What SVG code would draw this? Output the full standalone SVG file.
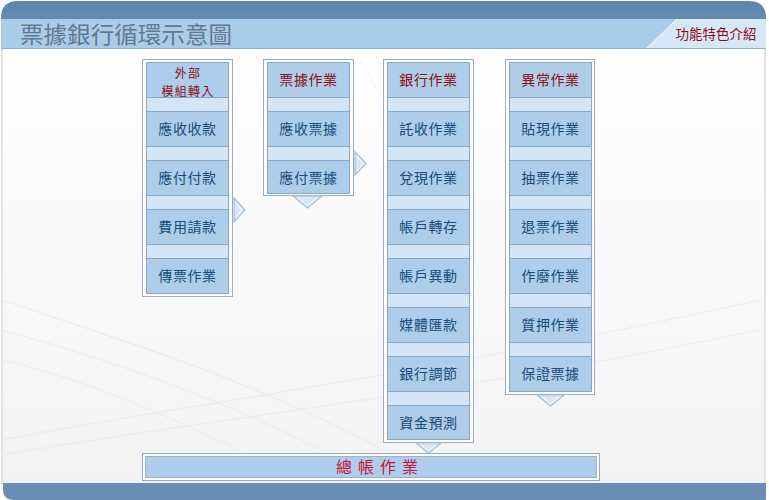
<svg xmlns="http://www.w3.org/2000/svg" width="769" height="500" viewBox="0 0 769 500">
<style>
.frame{fill:#ffffff;stroke:#98adc6;stroke-width:1}
.strip{fill:#d3e5f6;stroke:#88a7c6;stroke-width:1}
.item{fill:#adcdea;stroke:#88a7c6;stroke-width:1}
.t{font-family:"Noto Sans CJK TC","Noto Sans CJK SC",sans-serif;font-size:14px;fill:#1b4b7a;text-anchor:middle;letter-spacing:0.6px}
.h{font-family:"Noto Sans CJK TC","Noto Sans CJK SC",sans-serif;font-size:14px;fill:#8e0f14;text-anchor:middle;letter-spacing:0.6px}
.h2{font-family:"Noto Sans CJK TC","Noto Sans CJK SC",sans-serif;font-size:12px;fill:#8e0f14;text-anchor:middle;letter-spacing:1.2px}
.chev{fill:#d9e7f5;stroke:#a6bfd9;stroke-width:1.2;stroke-linejoin:miter}
.chevin{fill:none;stroke:#ffffff;stroke-width:1}
</style>
<defs>
<linearGradient id="bar" x1="0" y1="0" x2="0" y2="1">
<stop offset="0" stop-color="#5d85ad"/>
<stop offset="1" stop-color="#6f93b8"/>
</linearGradient>
<linearGradient id="bg" x1="0" y1="0" x2="0" y2="1">
<stop offset="0" stop-color="#ffffff"/>
<stop offset="1" stop-color="#f3f3f3"/>
</linearGradient>
</defs>
<!-- background -->
<rect x="0" y="0" width="769" height="500" fill="#ffffff"/>
<rect x="2" y="48" width="763" height="436" fill="url(#bg)" stroke="#c9c9c9" stroke-width="1"/>
<g fill="none" stroke="#ececec" stroke-width="1.2">
<path d="M2 300 C 120 340, 260 380, 420 470"/>
<path d="M2 330 C 110 360, 230 400, 360 470"/>
<path d="M2 360 C 90 380, 180 420, 300 480"/>
<path d="M2 440 C 150 410, 400 380, 760 300"/>
<path d="M2 455 C 200 420, 450 395, 760 330"/>
</g>
<g fill="none" stroke="#f2f2f2" stroke-width="1">
<path d="M360 60 C 420 160, 470 300, 460 480"/>
</g>
<!-- header -->
<path d="M1 48 L1 18 Q1 1 18 1 L749 1 Q766 1 766 18 L766 48 Z" fill="url(#bar)"/>
<rect x="1" y="19" width="765" height="29" fill="#abcce9"/>
<path d="M647 48 L677 19 L766 19 L766 48 Z" fill="#d6e7f7"/>
<line x1="647" y1="48" x2="677" y2="19" stroke="#ffffff" stroke-width="1"/>
<line x1="1" y1="48.5" x2="766" y2="48.5" stroke="#8fadca" stroke-width="1"/>
<text x="20" y="43" font-family="Noto Sans CJK TC,Noto Sans CJK SC,sans-serif" font-size="23" fill="#62798f" textLength="212" lengthAdjust="spacingAndGlyphs">票據銀行循環示意圖</text>
<text x="716" y="39" font-family="Noto Sans CJK TC,Noto Sans CJK SC,sans-serif" font-size="13.5" fill="#8e0f14" text-anchor="middle">功能特色介紹</text>
<!-- footer -->
<path d="M3 483 L766 483 L766 500 L14 500 Q3 500 3 489 Z" fill="#6a8db3"/>

<!-- column 1 -->
<g id="col1">
<rect class="frame" x="142.5" y="59.5" width="90" height="237"/>
<rect class="strip" x="146.5" y="62.5" width="82" height="230"/>
<g id="n-external"><rect class="item" x="146.5" y="62.5" width="82" height="35"/><text class="h2" x="188" y="78"><tspan x="188" y="78">外部</tspan><tspan x="188" y="95.5">模組轉入</tspan></text></g>
<g id="n-ar"><rect class="item" x="146.5" y="111.5" width="82" height="35"/><text class="t" x="187.5" y="134">應收收款</text></g>
<g id="n-ap"><rect class="item" x="146.5" y="160.5" width="82" height="35"/><text class="t" x="187.5" y="183">應付付款</text></g>
<g id="n-expense"><rect class="item" x="146.5" y="209.5" width="82" height="35"/><text class="t" x="187.5" y="232">費用請款</text></g>
<g id="n-voucher"><rect class="item" x="146.5" y="258.5" width="82" height="35"/><text class="t" x="187.5" y="281">傳票作業</text></g>
</g>

<!-- column 2 -->
<g id="col2">
<rect class="frame" x="263.5" y="59.5" width="90" height="136"/>
<rect class="strip" x="267.5" y="62.5" width="82" height="130"/>
<g id="n-bills"><rect class="item" x="267.5" y="62.5" width="82" height="35"/><text class="h" x="308.5" y="85">票據作業</text></g>
<g id="n-recv-bills"><rect class="item" x="267.5" y="111.5" width="82" height="35"/><text class="t" x="308.5" y="134">應收票據</text></g>
<g id="n-pay-bills"><rect class="item" x="267.5" y="160.5" width="82" height="33"/><text class="t" x="308.5" y="183">應付票據</text></g>
</g>

<!-- column 3 -->
<g id="col3">
<rect class="frame" x="383.5" y="59.5" width="90" height="383"/>
<rect class="strip" x="387.5" y="62.5" width="82" height="377"/>
<g id="n-bank"><rect class="item" x="387.5" y="62.5" width="82" height="35"/><text class="h" x="428.5" y="85">銀行作業</text></g>
<g id="n-collect"><rect class="item" x="387.5" y="111.5" width="82" height="35"/><text class="t" x="428.5" y="134">託收作業</text></g>
<g id="n-cash"><rect class="item" x="387.5" y="160.5" width="82" height="35"/><text class="t" x="428.5" y="183">兌現作業</text></g>
<g id="n-transfer"><rect class="item" x="387.5" y="209.5" width="82" height="35"/><text class="t" x="428.5" y="232">帳戶轉存</text></g>
<g id="n-change"><rect class="item" x="387.5" y="258.5" width="82" height="35"/><text class="t" x="428.5" y="281">帳戶異動</text></g>
<g id="n-media"><rect class="item" x="387.5" y="307.5" width="82" height="35"/><text class="t" x="428.5" y="330">媒體匯款</text></g>
<g id="n-reconcile"><rect class="item" x="387.5" y="356.5" width="82" height="35"/><text class="t" x="428.5" y="379">銀行調節</text></g>
<g id="n-forecast"><rect class="item" x="387.5" y="405.5" width="82" height="34"/><text class="t" x="428.5" y="428">資金預測</text></g>
</g>

<!-- column 4 -->
<g id="col4">
<rect class="frame" x="505.5" y="59.5" width="89" height="335"/>
<rect class="strip" x="509.5" y="62.5" width="82" height="329"/>
<g id="n-abnormal"><rect class="item" x="509.5" y="62.5" width="82" height="35"/><text class="h" x="550.5" y="85">異常作業</text></g>
<g id="n-discount"><rect class="item" x="509.5" y="111.5" width="82" height="35"/><text class="t" x="550.5" y="134">貼現作業</text></g>
<g id="n-withdraw"><rect class="item" x="509.5" y="160.5" width="82" height="35"/><text class="t" x="550.5" y="183">抽票作業</text></g>
<g id="n-return"><rect class="item" x="509.5" y="209.5" width="82" height="35"/><text class="t" x="550.5" y="232">退票作業</text></g>
<g id="n-void"><rect class="item" x="509.5" y="258.5" width="82" height="35"/><text class="t" x="550.5" y="281">作廢作業</text></g>
<g id="n-pledge"><rect class="item" x="509.5" y="307.5" width="82" height="35"/><text class="t" x="550.5" y="330">質押作業</text></g>
<g id="n-guarantee"><rect class="item" x="509.5" y="356.5" width="82" height="35"/><text class="t" x="550.5" y="379">保證票據</text></g>
</g>

<!-- general ledger -->
<g id="n-ledger">
<rect x="142.5" y="453.5" width="457" height="27" fill="#ffffff" stroke="#8fa8c4" stroke-width="1"/>
<rect x="145.5" y="456.5" width="451" height="21" fill="#adcdea" stroke="#9ab4cf" stroke-width="1"/>
<text x="380" y="473" font-family="Noto Sans CJK TC,Noto Sans CJK SC,sans-serif" font-size="16" fill="#c8143f" text-anchor="middle" letter-spacing="6">總帳作業</text>
</g>

<!-- connectors -->
<g id="connectors">
<polygon class="chev" points="234,198 245,210 234,222"/>
<polyline class="chevin" points="236,202 242,210 236,218"/>
<polygon class="chev" points="355,152 366,163.5 355,175"/>
<polyline class="chevin" points="357,156 363,163.5 357,171"/>
<polygon class="chev" points="293,196 322,196 307.5,208"/>
<polyline class="chevin" points="298,198 307.5,205.5 317,198"/>
<polygon class="chev" points="416,443 441,443 428.5,453"/>
<polyline class="chevin" points="421,445 428.5,451 436,445"/>
<polygon class="chev" points="537,395 564,395 550.5,406"/>
<polyline class="chevin" points="542,397 550.5,404 559,397"/>
</g>
</svg>
